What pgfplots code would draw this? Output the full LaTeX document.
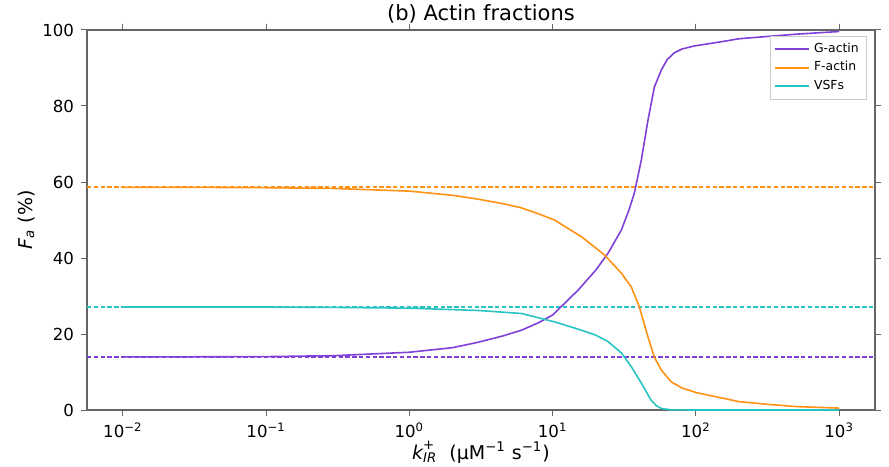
\documentclass[border=0pt]{standalone}
\usepackage{fontspec}
\setmainfont{DejaVu Sans}
\usepackage{amsmath}
\usepackage{pgfplots}
\pgfplotsset{compat=1.18}
\definecolor{gpurp}{HTML}{8040D8}
\definecolor{forng}{HTML}{FF9114}
\definecolor{vcyan}{HTML}{28C4C4}
\begin{document}
\begin{tikzpicture}
\begin{axis}[
  name=ax,
  scale only axis, width=394pt, height=190pt,
  xmode=log, log basis x=10,
  xmin=0.005623, xmax=1778.3,
  ymin=0, ymax=100,
  axis line style={black!60, line width=0.6pt},
  tick align=outside,
  tick style={black!60, line width=0.5pt},
  major tick length=3pt, minor tick length=1.8pt,
  xtick={0.01,0.1,1,10,100,1000},
  xticklabels={10\textsuperscript{−2},10\textsuperscript{−1},10\textsuperscript{0},10\textsuperscript{1},10\textsuperscript{2},10\textsuperscript{3}},
  ytick={0,20,40,60,80,100},
  yticklabel style={/pgf/number format/assume math mode=true},
  ticklabel style={font=\fontsize{8.3}{9}\selectfont},
  title={(b) Actin fractions},
  title style={font=\fontsize{10.5}{12}\selectfont, yshift=-6pt},
  xlabel={$\textit{k}^{\text{+}}_{\textit{IR}}$\ \ (μM\textsuperscript{−1} s\textsuperscript{−1})},
  ylabel={\textit{F}\textsubscript{\textit{a}} (\%)},
  label style={font=\fontsize{9.5}{11}\selectfont},
  xlabel style={yshift=5pt},
  ylabel style={yshift=-3pt},
  legend style={at={(0.99,0.985)}, anchor=north east, font=\fontsize{6.2}{7}\selectfont, draw=black!20, row sep=-1pt, inner xsep=2pt, inner ysep=1.5pt},
  legend image post style={line width=1pt},
  legend cell align=left,
  clip=true,
]
\addplot[draw=forng, line width=0.8pt, dash pattern=on 2.2pt off 1.2pt, forget plot] coordinates {(0.005623,58.7) (1778.3,58.7)};
\addplot[draw=vcyan, line width=0.8pt, dash pattern=on 2.2pt off 1.2pt, forget plot] coordinates {(0.005623,27.1) (1778.3,27.1)};
\addplot[draw=gpurp, line width=0.8pt, dash pattern=on 2.2pt off 1.2pt, forget plot] coordinates {(0.005623,13.9) (1778.3,13.9)};
\addplot[draw=gpurp, line width=0.8pt] coordinates {
(0.01,14.0) (0.03,14.0) (0.1,14.05) (0.3,14.3) (1,15.2) (2,16.4) (3,17.8) (4.5,19.5) (6.06,21.0) (8,23.0) (10,25.0) (15.1,31.6) (20,36.8) (24.4,41.3) (30.2,47.4) (34,52.5) (37.2,57.1) (41.6,65.8) (46.3,76.3) (51.3,85.0) (57.4,89.5) (63,92.2) (70.7,94.0) (80,95.0) (97.5,95.8) (150,96.9) (200,97.7) (316,98.3) (500,98.9) (1000,99.6)
};
\addlegendentry{G-actin}
\addplot[draw=forng, line width=0.8pt] coordinates {
(0.01,58.6) (0.03,58.6) (0.1,58.5) (0.3,58.3) (1,57.6) (2,56.5) (3,55.5) (4.5,54.3) (6.06,53.2) (8,51.6) (10.3,50.0) (15.9,45.6) (23,40.8) (30.2,36.0) (35.4,32.4) (40.3,27.1) (46.3,19.2) (51.3,13.9) (57.4,10.5) (67.3,7.4) (80,5.8) (100,4.6) (150,3.2) (200,2.2) (316,1.5) (500,0.9) (1000,0.5)
};
\addlegendentry{F-actin}
\addplot[draw=vcyan, line width=0.8pt] coordinates {
(0.01,27.1) (0.1,27.1) (0.3,27.0) (1,26.8) (3,26.2) (6.06,25.4) (10.3,23.2) (15.9,21.0) (20,19.7) (24.4,18.0) (30.2,15.0) (35.4,11.4) (41.6,7.1) (48.6,2.6) (53,1.1) (57.4,0.4) (67,0.05) (100,0) (1000,0)
};
\addlegendentry{VSFs}
\end{axis}
\pgfresetboundingbox
\path ([shift={(-43.5pt,-28pt)}]ax.south west) rectangle ([shift={(7pt,15pt)}]ax.north east);
\end{tikzpicture}
\end{document}
